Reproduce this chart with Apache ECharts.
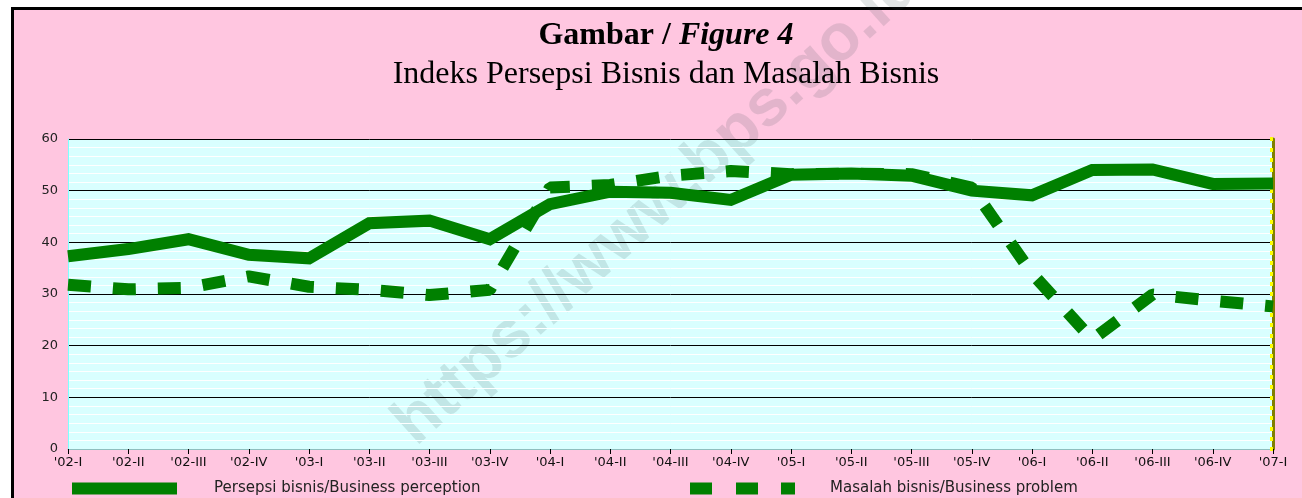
<!DOCTYPE html>
<html>
<head>
<meta charset="utf-8">
<script src="https://cdn.jsdelivr.net/npm/echarts@6/dist/echarts.min.js"></script>
<style>
  html, body { margin: 0; padding: 0; background: #fff; }
  #frame {
    position: absolute; left: 11px; top: 7px; width: 1320px; height: 520px;
    border-top: 3px solid #000; border-left: 3px solid #000;
    background: #FFC6E0;
  }
  #chart { position: absolute; left: 0; top: 0; width: 1302px; height: 498px; }
</style>
</head>
<body>
<div id="frame"></div>
<div id="chart"></div>
<script>
// quarters 2002-I .. 2007-I
const categories = ["'02-I", "'02-II", "'02-III", "'02-IV", "'03-I", "'03-II", "'03-III", "'03-IV",
  "'04-I", "'04-II", "'04-III", "'04-IV", "'05-I", "'05-II", "'05-III", "'05-IV",
  "'06-I", "'06-II", "'06-III", "'06-IV", "'07-I"]
const persepsi = [37.3, 38.7, 40.6, 37.6, 36.9, 43.7, 44.2, 40.6, 47.4, 49.8, 49.6, 48.2,
  53.1, 53.3, 52.9, 50.0, 49.1, 54.0, 54.1, 51.3, 51.4]
const masalah = [31.8, 30.9, 31.2, 33.4, 31.4, 30.8, 29.8, 30.8, 50.6, 51.1, 52.9, 53.8,
  53.2, 53.3, 53.2, 50.6, 34.0, 21.2, 29.9, 28.7, 27.6]
const yTicks = [0, 10, 20, 30, 40, 50, 60]

const nameSolid = 'Persepsi bisnis/Business perception'
const nameDash = 'Masalah bisnis/Business problem'
const green = '#008000'

const chart = echarts.init(document.getElementById('chart'))
chart.setOption({
  animation: false,
  title: {
    left: 666,
    top: 20,
    textAlign: 'center',
    padding: 0,
    itemGap: 7,
    text: '{b|Gambar / }{bi|Figure 4}',
    textStyle: {
      rich: {
        b: { fontFamily: 'Liberation Serif', fontWeight: 'bold', fontSize: 32, color: '#000' },
        bi: { fontFamily: 'Liberation Serif', fontWeight: 'bold', fontStyle: 'italic', fontSize: 32, color: '#000' }
      }
    },
    subtext: 'Indeks Persepsi Bisnis dan Masalah Bisnis',
    subtextStyle: { fontFamily: 'Liberation Serif', fontSize: 32, color: '#000' }
  },
  // watermark of the source
  graphic: [{
    type: 'text',
    z: -10,
    x: 426,
    y: 458,
    rotation: 42 * Math.PI / 180,
    style: {
      text: 'https://www.bps.go.id',
      font: 'bold 66px "Liberation Sans"',
      fill: 'rgba(30,60,60,0.13)',
      align: 'left',
      verticalAlign: 'bottom'
    }
  }],
  legend: [
    {
      left: 72, top: 481, padding: 0,
      itemWidth: 105, itemHeight: 12,
      selectedMode: false,
      data: [{ name: nameSolid, icon: 'rect', itemStyle: { color: green, borderWidth: 0 } }],
      formatter: '{t|{name}}',
      textStyle: { rich: { t: { padding: [0, 0, 0, 32], fontFamily: 'DejaVu Sans', fontSize: 15, color: '#222' } } }
    },
    {
      left: 690, top: 481, padding: 0,
      itemWidth: 105, itemHeight: 12,
      selectedMode: false,
      data: [{
        name: nameDash,
        icon: 'path://M0,0h22v12h-22z M46,0h22v12h-22z M91,0h14v12h-14z',
        itemStyle: { color: green, borderWidth: 0 }
      }],
      formatter: '{t|{name}}',
      textStyle: { rich: { t: { padding: [0, 0, 0, 30], fontFamily: 'DejaVu Sans', fontSize: 15, color: '#222' } } }
    }
  ],
  grid: {
    left: 68, right: 29, top: 139, bottom: 49,
    show: true, z: -20,
    backgroundColor: '#D9FFFF', borderWidth: 0
  },
  xAxis: {
    type: 'category',
    data: categories,
    boundaryGap: false,
    axisLine: { lineStyle: { color: '#8FBFBF', width: 1 } },
    axisTick: { show: true, length: 5, lineStyle: { color: '#000' } },
    axisLabel: { interval: 0, hideOverlap: false, margin: 7, fontFamily: 'DejaVu Sans', fontSize: 13, color: '#111' },
    splitLine: { show: false }
  },
  yAxis: [
    {
      type: 'value',
      min: 0, max: 60, interval: 10,
      axisLine: { show: true, lineStyle: { color: '#80FFFF' } },
      axisTick: { show: false },
      axisLabel: { margin: 10, fontFamily: 'DejaVu Sans', fontSize: 13, color: '#222',
        formatter: v => yTicks.includes(v) ? String(v) : '' },
      splitLine: { lineStyle: { color: '#000', width: 1 } },
      minorTick: { show: false, splitNumber: 6 },
      minorSplitLine: { show: true, lineStyle: { color: '#FFFFFF', width: 1 } }
    },
    {
      type: 'value',
      position: 'right',
      min: 0, max: 60, interval: 2,
      axisLine: { show: true, lineStyle: { color: '#808000', width: 3 } },
      axisTick: { show: true, inside: true, length: 3, lineStyle: { color: '#FFFF00', width: 4 } },
      axisLabel: { show: false },
      splitLine: { show: false }
    }
  ],
  series: [
    {
      name: nameSolid,
      type: 'line',
      data: persepsi,
      symbol: 'none',
      color: green,
      lineStyle: { color: green, width: 12, join: 'miter' }
    },
    {
      name: nameDash,
      type: 'line',
      data: masalah,
      symbol: 'none',
      color: green,
      lineStyle: { color: green, width: 12, type: [23, 22], cap: 'butt' }
    }
  ]
})
</script>
</body>
</html>
